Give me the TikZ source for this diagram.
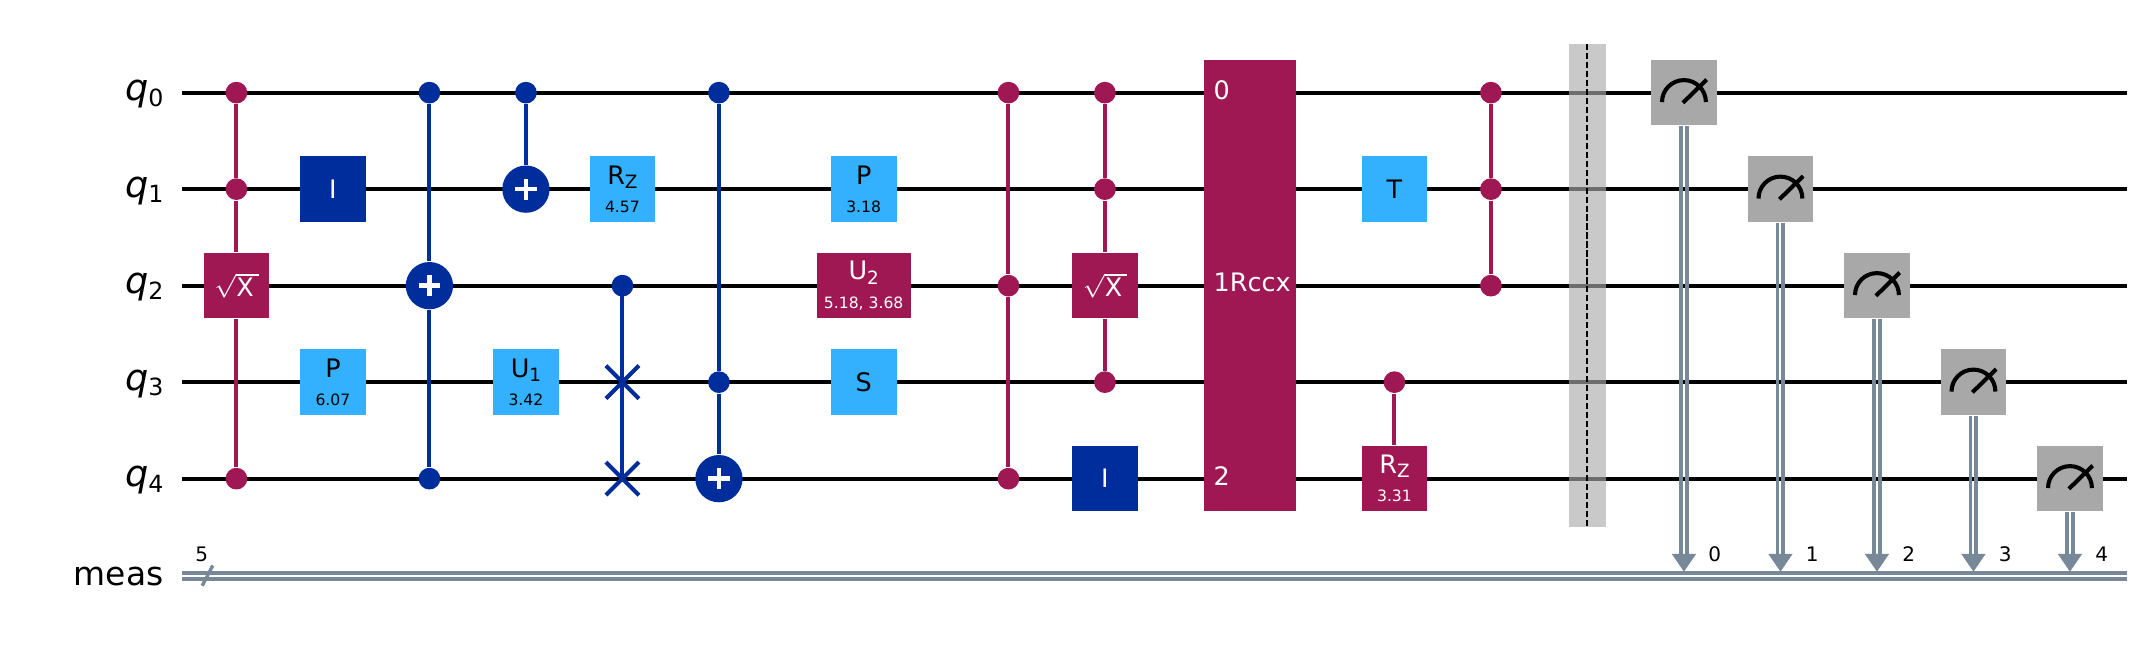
\documentclass[tikz,border=0pt]{standalone}
\usepackage{fontspec}
\setmainfont{DejaVu Sans}
\usetikzlibrary{arrows.meta,shapes.misc}
\definecolor{qpurple}{HTML}{9F1853}
\definecolor{qblue}{HTML}{002D9C}
\definecolor{qsky}{HTML}{33B1FF}
\definecolor{qgray}{HTML}{A8A8A8}
\definecolor{qbar}{HTML}{ABABAB}
\definecolor{qslate}{HTML}{778899}
\newcommand{\lowidx}[1]{\raisebox{-.16em}{\scalebox{.72}{#1}}}
\newcommand{\qname}[1]{{\fontsize{10.8}{11}\selectfont\textit{q}}\lowidx{#1}}
\newcommand{\parmtxt}[1]{{\fontsize{4.6}{5}\selectfont #1}}
\newcommand{\rootx}{$\sqrt{\mbox{X}\kern1.5pt}$}
\tikzset{
  qwire/.style={line width=1.2pt,black},
  cwire/.style={line width=1.15pt,qslate,double=white,double distance=.6pt},
  reglab/.style={anchor=base east,inner sep=0pt,font=\fontsize{9.7}{11}\selectfont},
  bitlab/.style={inner sep=0pt,font=\fontsize{5.9}{7}\selectfont},
  qgate/.style={rectangle,inner sep=0pt,minimum width=.68cm,minimum height=.68cm,align=center,
    font=\fontsize{7.5}{8.3}\selectfont},
  skygate/.style={qgate,fill=qsky,text=black},
  plumgate/.style={qgate,fill=qpurple,text=white},
  bluegate/.style={qgate,fill=qblue,text=white},
  rccxlab/.style={anchor=west,inner sep=0pt,text=white,font=\fontsize{7.5}{9}\selectfont},
  pdot/.style={circle,inner sep=0pt,minimum size=.225cm,fill=qpurple},
  bdot/.style={circle,inner sep=0pt,minimum size=.225cm,fill=qblue},
  pline/.style={line width=1.2pt,qpurple},
  bline/.style={line width=1.2pt,qblue},
  target/.style={circle,inner sep=0pt,minimum size=.49cm,fill=qblue,
    path picture={
      \draw[white,line width=1.35pt] ([xshift=-.11cm]path picture bounding box.center) -- ([xshift=.11cm]path picture bounding box.center);
      \draw[white,line width=1.35pt] ([yshift=-.11cm]path picture bounding box.center) -- ([yshift=.11cm]path picture bounding box.center);
    }},
  swapx/.style={cross out,draw=qblue,line width=1.2pt,inner sep=0pt,minimum size=.3cm},
  meter/.style={qgate,fill=qgray,
    path picture={
      \draw[black,line width=1.2pt] ([shift={(-.2275,-.0975)}]path picture bounding box.center) arc (180:0:.2275);
      \draw[black,line width=1.2pt] ([shift={(-.01,-.105)}]path picture bounding box.center) -- ([shift={(.235,.135)}]path picture bounding box.center);
    }},
  measrail/.style={line width=1.15pt,qslate},
  meastip/.style={qslate,line width=.1pt,-{Triangle[length=5.2pt,width=7.1pt]}}
}
\begin{document}
\begin{tikzpicture}
  \useasboundingbox (-2.45,-1.755) rectangle (19.809,4.96);
  % register names
  \node[reglab] (q0lab) at (-.75,3.915) {\qname{0}};
  \node[reglab] (q1lab) at (-.75,2.915) {\qname{1}};
  \node[reglab] (q2lab) at (-.75,1.915) {\qname{2}};
  \node[reglab] (q3lab) at (-.75,.915) {\qname{3}};
  \node[reglab] (q4lab) at (-.75,-.085) {\qname{4}};
  \node[reglab] (measlab) at (-.75,-1.105) {meas};
  % wires
  \coordinate (q0a) at (-.565,4); \coordinate (q0b) at (19.59,4);
  \coordinate (q1a) at (-.565,3); \coordinate (q1b) at (19.59,3);
  \coordinate (q2a) at (-.565,2); \coordinate (q2b) at (19.59,2);
  \coordinate (q3a) at (-.565,1); \coordinate (q3b) at (19.59,1);
  \coordinate (q4a) at (-.565,0); \coordinate (q4b) at (19.59,0);
  \coordinate (cla) at (-.565,-1.005); \coordinate (clb) at (19.59,-1.005);
  \draw[qwire] (q0a) -- (q0b);
  \draw[qwire] (q1a) -- (q1b);
  \draw[qwire] (q2a) -- (q2b);
  \draw[qwire] (q3a) -- (q3b);
  \draw[qwire] (q4a) -- (q4b);
  \draw[cwire] (cla) -- (clb);
  \coordinate (slasha) at (-.355,-1.11); \coordinate (slashb) at (-.245,-.9);
  \draw[line width=1pt,qslate] (slasha) -- (slashb);
  \node[bitlab] (clsize) at (-.36,-.78) {5};
  % ccsx on 0 1 4
  \node[pdot] (a0) at (0,4) {};
  \node[pdot] (a1) at (0,3) {};
  \node[plumgate] (sxa) at (0,2) {\rootx};
  \node[pdot] (a4) at (0,0) {};
  \draw[pline] (a0) -- (a1) -- (sxa);
  \draw[pline] (sxa) -- (a4);
  \node[bluegate] (ida) at (1,3) {I};
  \node[skygate] (pa) at (1,1) {P\\\parmtxt{6.07}};
  % cx 0 4 on 2
  \node[bdot] (b0) at (2,4) {};
  \node[bdot] (b4) at (2,0) {};
  \node[target] (b2) at (2,2) {};
  \draw[bline] (b0) -- (b2);
  \draw[bline] (b2) -- (b4);
  % cx 0 on 1
  \node[bdot] (c0) at (3,4) {};
  \node[target] (c1) at (3,3) {};
  \draw[bline] (c0) -- (c1);
  \node[skygate] (ua) at (3,1) {U\lowidx{1}\\\parmtxt{3.42}};
  \node[skygate] (rza) at (4,3) {R\lowidx{Z}\\\parmtxt{4.57}};
  % fredkin
  \node[bdot] (d2) at (4,2) {};
  \node[swapx] (d3) at (4,1) {};
  \node[swapx] (d4) at (4,0) {};
  \draw[bline] (d2.center) -- (d3.center) -- (d4.center);
  % ccx
  \node[bdot] (e0) at (5,4) {};
  \node[bdot] (e3) at (5,1) {};
  \node[target] (e4) at (5,0) {};
  \draw[bline] (e0) -- (e3) -- (e4);
  \node[skygate] (pb) at (6.5,3) {P\\\parmtxt{3.18}};
  \node[plumgate,minimum width=.975cm] (ub) at (6.5,2) {U\lowidx{2}\\\parmtxt{5.18, 3.68}};
  \node[skygate] (sa) at (6.5,1) {S};
  % ccz
  \node[pdot] (f0) at (8,4) {};
  \node[pdot] (f2) at (8,2) {};
  \node[pdot] (f4) at (8,0) {};
  \draw[pline] (f0) -- (f2) -- (f4);
  % c3sx
  \node[pdot] (g0) at (9,4) {};
  \node[pdot] (g1) at (9,3) {};
  \node[plumgate] (sxb) at (9,2) {\rootx};
  \node[pdot] (g3) at (9,1) {};
  \draw[pline] (g0) -- (g1) -- (sxb);
  \draw[pline] (sxb) -- (g3);
  \node[bluegate] (idb) at (9,0) {I};
  % rccx box
  \node[plumgate,minimum width=.955cm,minimum height=4.68cm] (rccx) at (10.5,2) {};
  \node[rccxlab] (rccx0) at (10.12,4.03) {0};
  \node[rccxlab] (rccx1) at (10.12,2.03) {1Rccx};
  \node[rccxlab] (rccx2) at (10.12,.03) {2};
  \node[skygate] (ta) at (12,3) {T};
  \node[pdot] (h3) at (12,1) {};
  \node[plumgate] (rzb) at (12,0) {R\lowidx{Z}\\\parmtxt{3.31}};
  \draw[pline] (h3) -- (rzb);
  % ccz again
  \node[pdot] (k0) at (13,4) {};
  \node[pdot] (k1) at (13,3) {};
  \node[pdot] (k2) at (13,2) {};
  \draw[pline] (k0) -- (k1) -- (k2);
  % barrier
  \node[rectangle,inner sep=0pt,minimum width=.39cm,minimum height=5cm,fill=qbar,fill opacity=.64] (bar) at (14,2) {};
  \draw[line width=.6pt,black,dash pattern=on 1.8pt off .85pt] (bar.north) -- (bar.south);
  % measure
  \coordinate (t0) at (15,-.963);
  \coordinate (t1) at (16,-.963);
  \coordinate (t2) at (17,-.963);
  \coordinate (t3) at (18,-.963);
  \coordinate (t4) at (19,-.963);
  \coordinate (s0) at (15,-.8);
  \coordinate (s1) at (16,-.8);
  \coordinate (s2) at (17,-.8);
  \coordinate (s3) at (18,-.8);
  \coordinate (s4) at (19,-.8);
  \node[meter] (m0) at (15,4) {};
  \node[meter] (m1) at (16,3) {};
  \node[meter] (m2) at (17,2) {};
  \node[meter] (m3) at (18,1) {};
  \node[meter] (m4) at (19,0) {};
  \draw[measrail] ([xshift=-.875pt]m0.south) -- ([xshift=-.875pt]s0);
  \draw[measrail] ([xshift=.875pt]m0.south) -- ([xshift=.875pt]s0);
  \draw[measrail] ([xshift=-.875pt]m1.south) -- ([xshift=-.875pt]s1);
  \draw[measrail] ([xshift=.875pt]m1.south) -- ([xshift=.875pt]s1);
  \draw[measrail] ([xshift=-.875pt]m2.south) -- ([xshift=-.875pt]s2);
  \draw[measrail] ([xshift=.875pt]m2.south) -- ([xshift=.875pt]s2);
  \draw[measrail] ([xshift=-.875pt]m3.south) -- ([xshift=-.875pt]s3);
  \draw[measrail] ([xshift=.875pt]m3.south) -- ([xshift=.875pt]s3);
  \draw[measrail] ([xshift=-.875pt]m4.south) -- ([xshift=-.875pt]s4);
  \draw[measrail] ([xshift=.875pt]m4.south) -- ([xshift=.875pt]s4);
  \draw[meastip] (s0) -- (t0);
  \draw[meastip] (s1) -- (t1);
  \draw[meastip] (s2) -- (t2);
  \draw[meastip] (s3) -- (t3);
  \draw[meastip] (s4) -- (t4);
  \node[bitlab] (bit0) at (15.32,-.78) {0};
  \node[bitlab] (bit1) at (16.33,-.78) {1};
  \node[bitlab] (bit2) at (17.33,-.78) {2};
  \node[bitlab] (bit3) at (18.33,-.78) {3};
  \node[bitlab] (bit4) at (19.33,-.78) {4};
\end{tikzpicture}
\end{document}
